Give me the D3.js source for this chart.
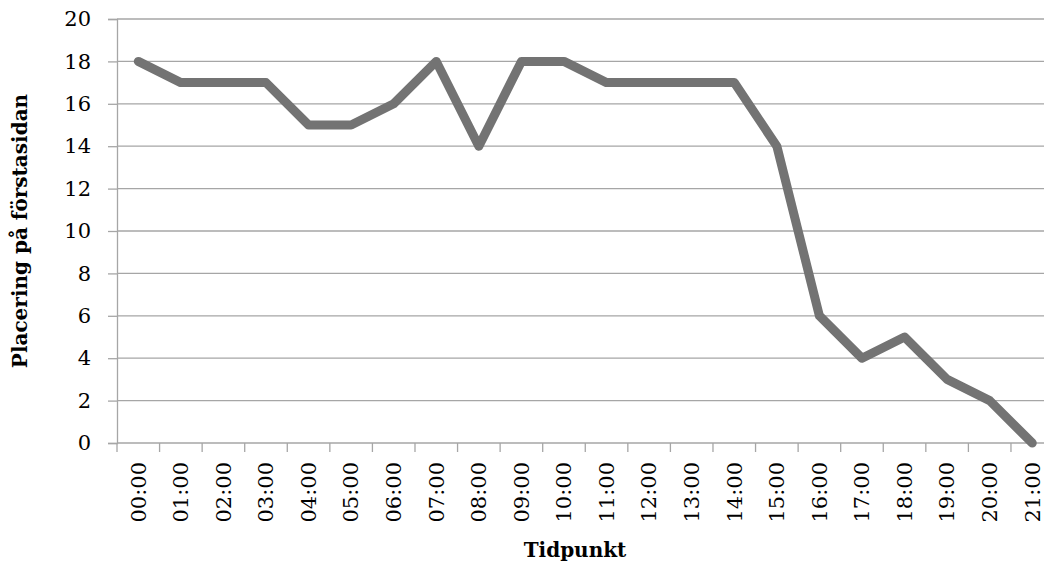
<!DOCTYPE html>
<html>
<head>
<meta charset="utf-8">
<script src="https://cdn.jsdelivr.net/npm/d3@7"></script>
<style>
  body { margin: 0; background: #fff; }
  svg { display: block; font-family: "DejaVu Serif", serif; }
  .grid line { stroke: #a6a6a6; stroke-width: 1.3; }
  .axis path, .axis line { stroke: #a6a6a6; stroke-width: 1.3; }
  .axis text { fill: #000; font-size: 21px; }
  .title { font-weight: bold; font-size: 20px; fill: #000; }
</style>
</head>
<body>
<svg id="chart" width="1044" height="567"></svg>
<script>
var hours = ['00:00', '01:00', '02:00', '03:00', '04:00', '05:00', '06:00', '07:00',
  '08:00', '09:00', '10:00', '11:00', '12:00', '13:00', '14:00', '15:00',
  '16:00', '17:00', '18:00', '19:00', '20:00', '21:00'];
var placement = [18, 17, 17, 17, 15, 15, 16, 18, 14, 18, 18, 17, 17, 17, 17, 14, 6, 4, 5, 3, 2, 0];
var yTicks = [0, 2, 4, 6, 8, 10, 12, 14, 16, 18, 20];

var svg = d3.select('#chart');
var plotLeft = 117, plotTop = 19, plotBottom = 443;
var step = 42.57;
var plotRight = plotLeft + step * hours.length;

var x = d3.scaleBand().domain(hours).range([plotLeft, plotRight]).paddingInner(0).paddingOuter(0);
var y = d3.scaleLinear().domain([0, 20]).range([plotBottom, plotTop]);

// horizontal gridlines
svg.append('g').attr('class', 'grid')
  .selectAll('line')
  .data(yTicks)
  .enter().append('line')
  .attr('x1', plotLeft).attr('x2', plotRight)
  .attr('y1', function(d) { return y(d); })
  .attr('y2', function(d) { return y(d); });

// y axis
svg.append('g').attr('class', 'axis')
  .attr('transform', 'translate(' + plotLeft + ',0)')
  .call(d3.axisLeft(y).tickValues(yTicks).tickSize(9).tickPadding(17))
  .attr('font-family', null).attr('font-size', null);

// x axis: ticks sit on band boundaries
var xAxis = svg.append('g').attr('class', 'axis')
  .attr('transform', 'translate(0,' + plotBottom + ')')
  .call(d3.axisBottom(x).tickSize(0).tickPadding(0))
  .attr('font-family', null).attr('font-size', null);
xAxis.select('.domain').remove();
xAxis.selectAll('.tick line').remove();
xAxis.selectAll('.tick text')
  .attr('text-anchor', 'end')
  .attr('dy', '0.35em')
  .attr('transform', 'translate(0,19) rotate(-90)');

xAxis.selectAll('line.sep')
  .data(hours)
  .enter().append('line')
  .attr('class', 'sep')
  .attr('x1', function(d) { return x(d); })
  .attr('x2', function(d) { return x(d); })
  .attr('y1', 0).attr('y2', 9);

// the line itself
var line = d3.line()
  .x(function(d, i) { return x(hours[i]) + x.bandwidth() / 2; })
  .y(function(d) { return y(d); });

svg.append('path')
  .datum(placement)
  .attr('d', line)
  .attr('fill', 'none')
  .attr('stroke', '#737373')
  .attr('stroke-width', 9)
  .attr('stroke-linejoin', 'round')
  .attr('stroke-linecap', 'round');

// titles
svg.append('text').attr('class', 'title')
  .attr('x', 575).attr('y', 557)
  .attr('text-anchor', 'middle')
  .text('Tidpunkt');

svg.append('text').attr('class', 'title')
  .attr('transform', 'translate(27,231) rotate(-90)')
  .attr('text-anchor', 'middle')
  .text('Placering på förstasidan');
</script>
</body>
</html>
